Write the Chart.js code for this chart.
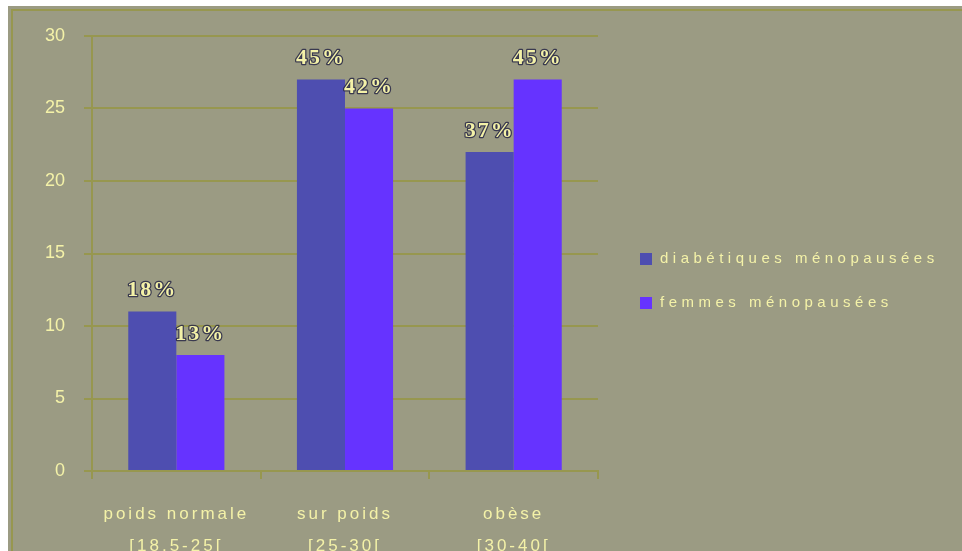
<!DOCTYPE html>
<html>
<head>
<meta charset="utf-8">
<script src="https://cdn.jsdelivr.net/npm/chart.js@4/dist/chart.umd.min.js"></script>
<style>
  html, body { margin: 0; padding: 0; background: #fff; }
  canvas { display: block; }
</style>
</head>
<body>
<canvas id="imcChart" width="962" height="551"></canvas>
<script>
const categories = [
  ["poids normale", "[18,5-25["],
  ["sur poids", "[25-30["],
  ["obèse", "[30-40["]
];
const seriesNames = ["diabétiques ménopausées", "femmes ménopausées"];
const diabetiques = [11, 27, 22];
const femmes = [8, 25, 27];
const yTicks = [0, 5, 10, 15, 20, 25, 30];

const BG = "#9b9b83";
const OLIVE = "#97974f";
const PALE = "#f4f2a8";
const COLORS = ["#4e4eb0", "#6633ff"];

// percentage of each bar within its own series
function percentOf(values, i) {
  const total = values.reduce((a, b) => a + b, 0);
  return Math.round(values[i] / total * 100) + "%";
}

const framePlugin = {
  id: "frame",
  beforeDraw(chart) {
    const ctx = chart.ctx;
    ctx.save();
    ctx.fillStyle = "#fff";
    ctx.fillRect(0, 0, chart.width, chart.height);
    ctx.fillStyle = BG;
    ctx.fillRect(8, 6, chart.width - 8, chart.height - 6);
    ctx.strokeStyle = OLIVE;
    ctx.lineWidth = 2;
    ctx.beginPath();
    ctx.moveTo(chart.width, 10);
    ctx.lineTo(12, 10);
    ctx.lineTo(12, chart.height);
    ctx.stroke();
    ctx.restore();
    ctx.letterSpacing = "0px";
  },
  afterDatasetsDraw(chart) {
    const ctx = chart.ctx;
    ctx.save();
    ctx.font = "bold 22px 'Liberation Serif', serif";
    ctx.letterSpacing = "2px";
    ctx.textAlign = "center";
    ctx.textBaseline = "middle";
    ctx.lineJoin = "round";
    chart.data.datasets.forEach((ds, d) => {
      chart.getDatasetMeta(d).data.forEach((bar, i) => {
        const txt = percentOf(ds.data, i);
        ctx.lineWidth = 2.5;
        ctx.strokeStyle = "rgba(40,40,70,0.85)";
        ctx.strokeText(txt, bar.x, bar.y - 21);
        ctx.fillStyle = PALE;
        ctx.fillText(txt, bar.x, bar.y - 21);
      });
    });
    ctx.restore();
    // category labels are drawn after this hook, with wide spacing
    ctx.letterSpacing = "3px";
  },
  afterDraw(chart) {
    const ctx = chart.ctx;
    ctx.save();
    ctx.font = "15px 'Liberation Sans', sans-serif";
    ctx.letterSpacing = "4.5px";
    ctx.textBaseline = "middle";
    chart.data.datasets.forEach((ds, d) => {
      const y = 259 + d * 44;
      ctx.fillStyle = ds.backgroundColor;
      ctx.fillRect(640, y - 6, 12, 12);
      ctx.fillStyle = PALE;
      ctx.fillText(ds.label, 660, y);
    });
    ctx.restore();
    ctx.letterSpacing = "0px";
  }
};

new Chart(document.getElementById("imcChart"), {
  type: "bar",
  data: {
    labels: categories,
    datasets: [
      { label: seriesNames[0], data: diabetiques, backgroundColor: COLORS[0] },
      { label: seriesNames[1], data: femmes, backgroundColor: COLORS[1] }
    ]
  },
  options: {
    responsive: false,
    animation: false,
    layout: { padding: { left: 0, top: 36, right: 364, bottom: 0 } },
    datasets: { bar: { barPercentage: 1, categoryPercentage: 0.57 } },
    plugins: {
      legend: { display: false },
      tooltip: { enabled: false }
    },
    scales: {
      x: {
        afterFit(scale) { scale.height = 80; },
        grid: {
          offset: true,
          drawOnChartArea: false,
          color: OLIVE,
          lineWidth: 2,
          tickLength: 8
        },
        border: { color: OLIVE, width: 2 },
        ticks: {
          z: 1,
          autoSkip: false,
          maxRotation: 0,
          padding: 20,
          color: PALE,
          font: { family: "'Liberation Sans', sans-serif", size: 17, lineHeight: 1.85 }
        }
      },
      y: {
        min: 0,
        max: 30,
        afterFit(scale) { scale.width = 92; },
        afterBuildTicks(scale) { scale.ticks = yTicks.map(v => ({ value: v })); },
        grid: { color: OLIVE, lineWidth: 2, tickLength: 8 },
        border: { color: OLIVE, width: 2 },
        ticks: {
          padding: 19,
          color: PALE,
          font: { family: "'Liberation Sans', sans-serif", size: 18 }
        }
      }
    }
  },
  plugins: [framePlugin]
});
</script>
</body>
</html>
